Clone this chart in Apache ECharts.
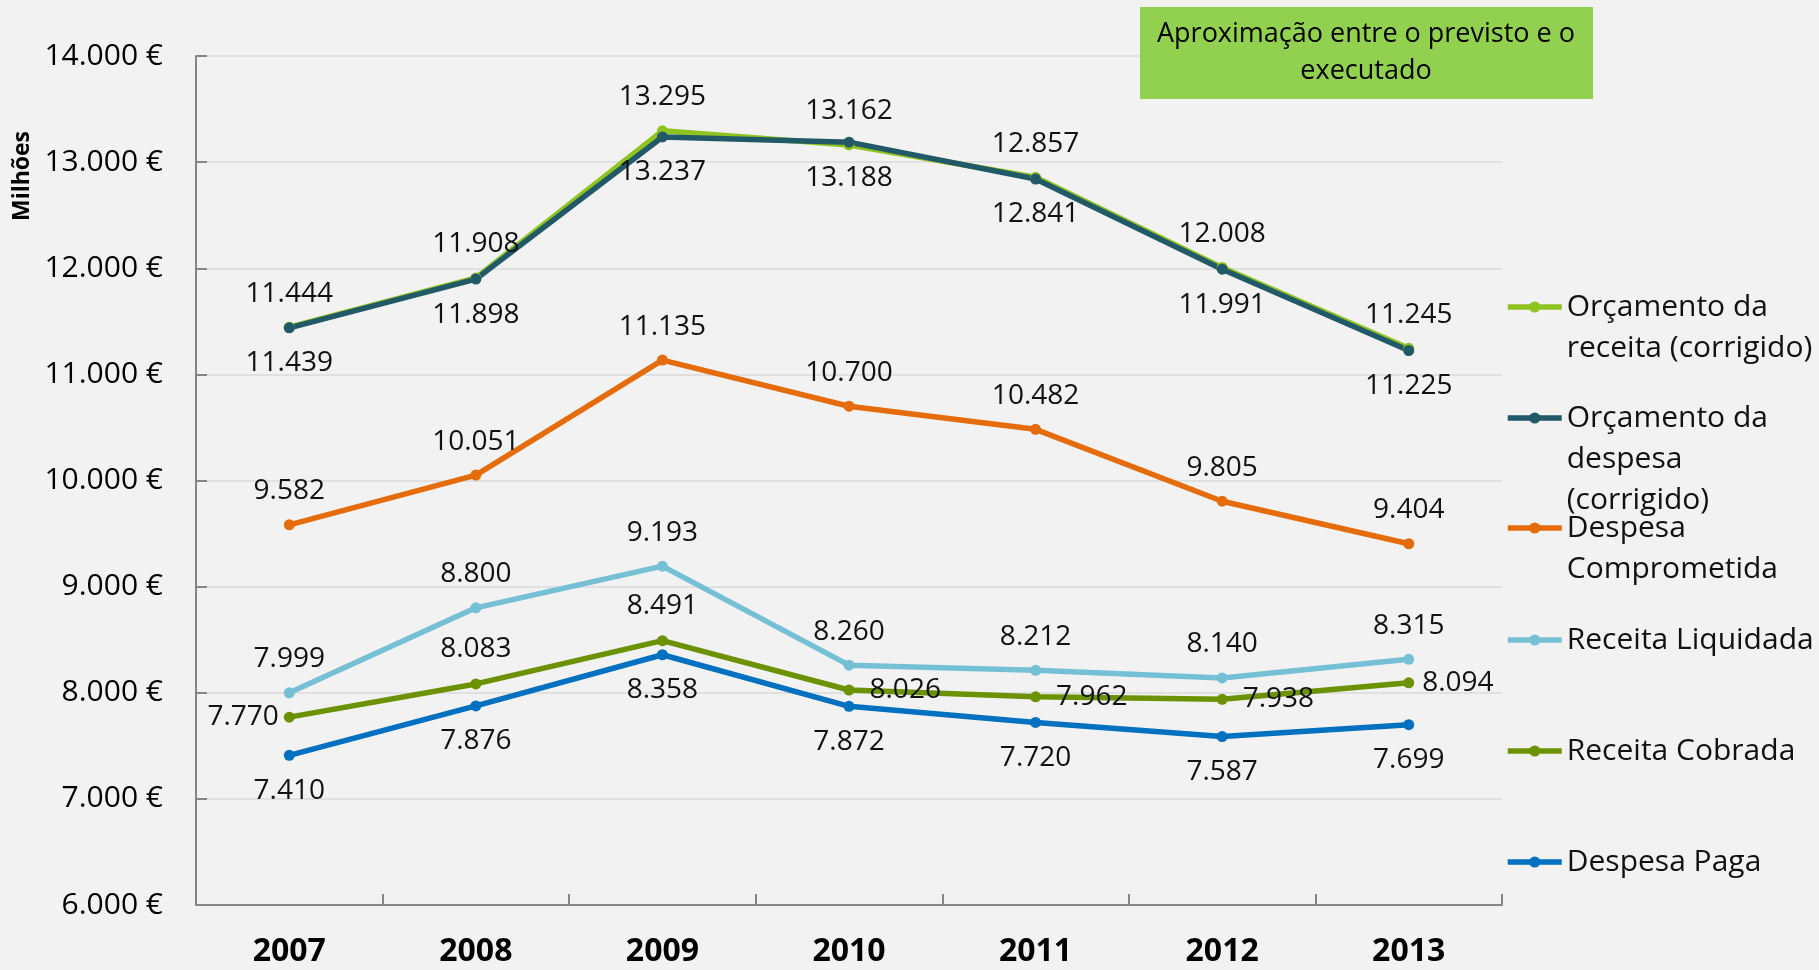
<!DOCTYPE html>
<html>
<head>
<meta charset="utf-8">
<script src="https://cdn.jsdelivr.net/npm/echarts@6/dist/echarts.min.js"></script>
<style>
html, body { margin: 0; padding: 0; background: #f2f2f2; }
#main { width: 1819px; height: 970px; }
</style>
</head>
<body>
<div id="main"></div>
<script>
var chart = echarts.init(document.getElementById('main'));

// dados (milhões de euros)
var anos = ['2007', '2008', '2009', '2010', '2011', '2012', '2013'];
var orcReceita = [11444, 11908, 13295, 13162, 12857, 12008, 11245];
var orcDespesa = [11439, 11898, 13237, 13188, 12841, 11991, 11225];
var despComprometida = [9582, 10051, 11135, 10700, 10482, 9805, 9404];
var recLiquidada = [7999, 8800, 9193, 8260, 8212, 8140, 8315];
var recCobrada = [7770, 8083, 8491, 8026, 7962, 7938, 8094];
var despPaga = [7410, 7876, 8358, 7872, 7720, 7587, 7699];

var nomes = ['Orçamento da receita (corrigido)', 'Orçamento da despesa (corrigido)',
    'Despesa Comprometida', 'Receita Liquidada', 'Receita Cobrada', 'Despesa Paga'];
// quebras de linha da legenda
var nomesLegenda = ['Orçamento da\nreceita (corrigido)', 'Orçamento da\ndespesa\n(corrigido)',
    'Despesa\nComprometida', 'Receita Liquidada', 'Receita Cobrada', 'Despesa Paga'];
var cores = ['#8fc31f', '#215968', '#e46c0a', '#76c0d5', '#6b9200', '#0070c0'];

var FONT = '"Open Sans", "Noto Sans", sans-serif';

function fmt(v) {
    return String(v).replace(/\B(?=(\d{3})+(?!\d))/g, '.');
}

function serie(idx, valores, pos, dist) {
    return {
        name: nomes[idx],
        type: 'line',
        data: valores,
        symbol: 'circle',
        symbolSize: 11,
        lineStyle: { width: 5.5, color: cores[idx] },
        itemStyle: { color: cores[idx] },
        label: {
            show: true,
            position: pos,
            distance: dist,
            color: '#111',
            fontSize: 28,
            fontFamily: FONT,
            formatter: function (p) { return fmt(p.value); }
        }
    };
}

// posição dos rótulos da receita cobrada
var posCobrada = ['left', 'top', 'top', 'right', 'right', 'right', 'right'];
var serieCobrada = serie(4, [], 'top', 14);
serieCobrada.data = recCobrada.map(function (v, i) {
    return { value: v, label: { position: posCobrada[i], distance: posCobrada[i] == 'left' ? 5 : (i == 6 ? 8 : 15) } };
});

var legendCentros = [307, 418, 528, 640, 751, 862];
var LH = 41;
var legends = nomes.map(function (n, i) {
    var linhas = nomesLegenda[i].split('\n');
    // linhas vazias por cima para o ícone ficar na primeira linha
    var texto = new Array(linhas.length).join('\n') + nomesLegenda[i];
    var h = LH * (2 * linhas.length - 1);
    return {
        left: 1505,
        top: legendCentros[i] - h / 2,
        padding: 0,
        itemWidth: 54,
        itemHeight: 14,
        selectedMode: false,
        data: [n],
        lineStyle: { width: 5.5 },
        formatter: function () { return texto; },
        textStyle: {
            fontSize: 30,
            fontFamily: FONT,
            color: '#111',
            lineHeight: LH
        }
    };
});

var option = {
    backgroundColor: '#f2f2f2',
    animation: false,
    grid: { left: 196, right: 317, top: 56, bottom: 65 },
    legend: legends,
    xAxis: {
        type: 'category',
        data: anos,
        boundaryGap: true,
        axisLine: { lineStyle: { color: '#868686', width: 2 } },
        axisTick: { show: true, inside: true, length: 11, lineStyle: { color: '#868686', width: 2 } },
        axisLabel: { color: '#000', fontSize: 32, fontWeight: 'bold', fontFamily: FONT, margin: 31 }
    },
    yAxis: {
        type: 'value',
        min: 6000,
        max: 14000,
        interval: 1000,
        axisLine: { show: true, lineStyle: { color: '#868686', width: 2 } },
        axisTick: { show: true, inside: true, length: 11, lineStyle: { color: '#868686', width: 2 } },
        splitLine: { lineStyle: { color: '#e0e0e0', width: 2 } },
        axisLabel: {
            color: '#000', fontSize: 30, fontFamily: FONT, margin: 33,
            formatter: function (v) { return fmt(v) + ' €'; }
        }
    },
    graphic: [
        {
            type: 'text',
            x: 22, y: 176,
            rotation: Math.PI / 2,
            style: {
                text: 'Milhões', font: 'bold 23px ' + FONT, fill: '#000',
                align: 'center', verticalAlign: 'middle'
            }
        },
        {
            type: 'group',
            x: 1140, y: 7,
            z: 100,
            children: [
                { type: 'rect', z: 100, shape: { x: 0, y: 0, width: 453, height: 92 }, style: { fill: '#92d050' } },
                {
                    type: 'text', z: 101, x: 226, y: 46,
                    style: {
                        text: 'Aproximação entre o previsto e o\nexecutado',
                        font: '27px ' + FONT, fill: '#000', lineHeight: 37,
                        align: 'center', verticalAlign: 'middle'
                    }
                }
            ]
        }
    ],
    series: [
        serie(0, orcReceita, 'top', 14),
        serie(1, orcDespesa, 'bottom', 16),
        serie(2, despComprometida, 'top', 14),
        serie(3, recLiquidada, 'top', 14),
        serieCobrada,
        serie(5, despPaga, 'bottom', 16)
    ]
};

chart.setOption(option);
</script>
</body>
</html>
